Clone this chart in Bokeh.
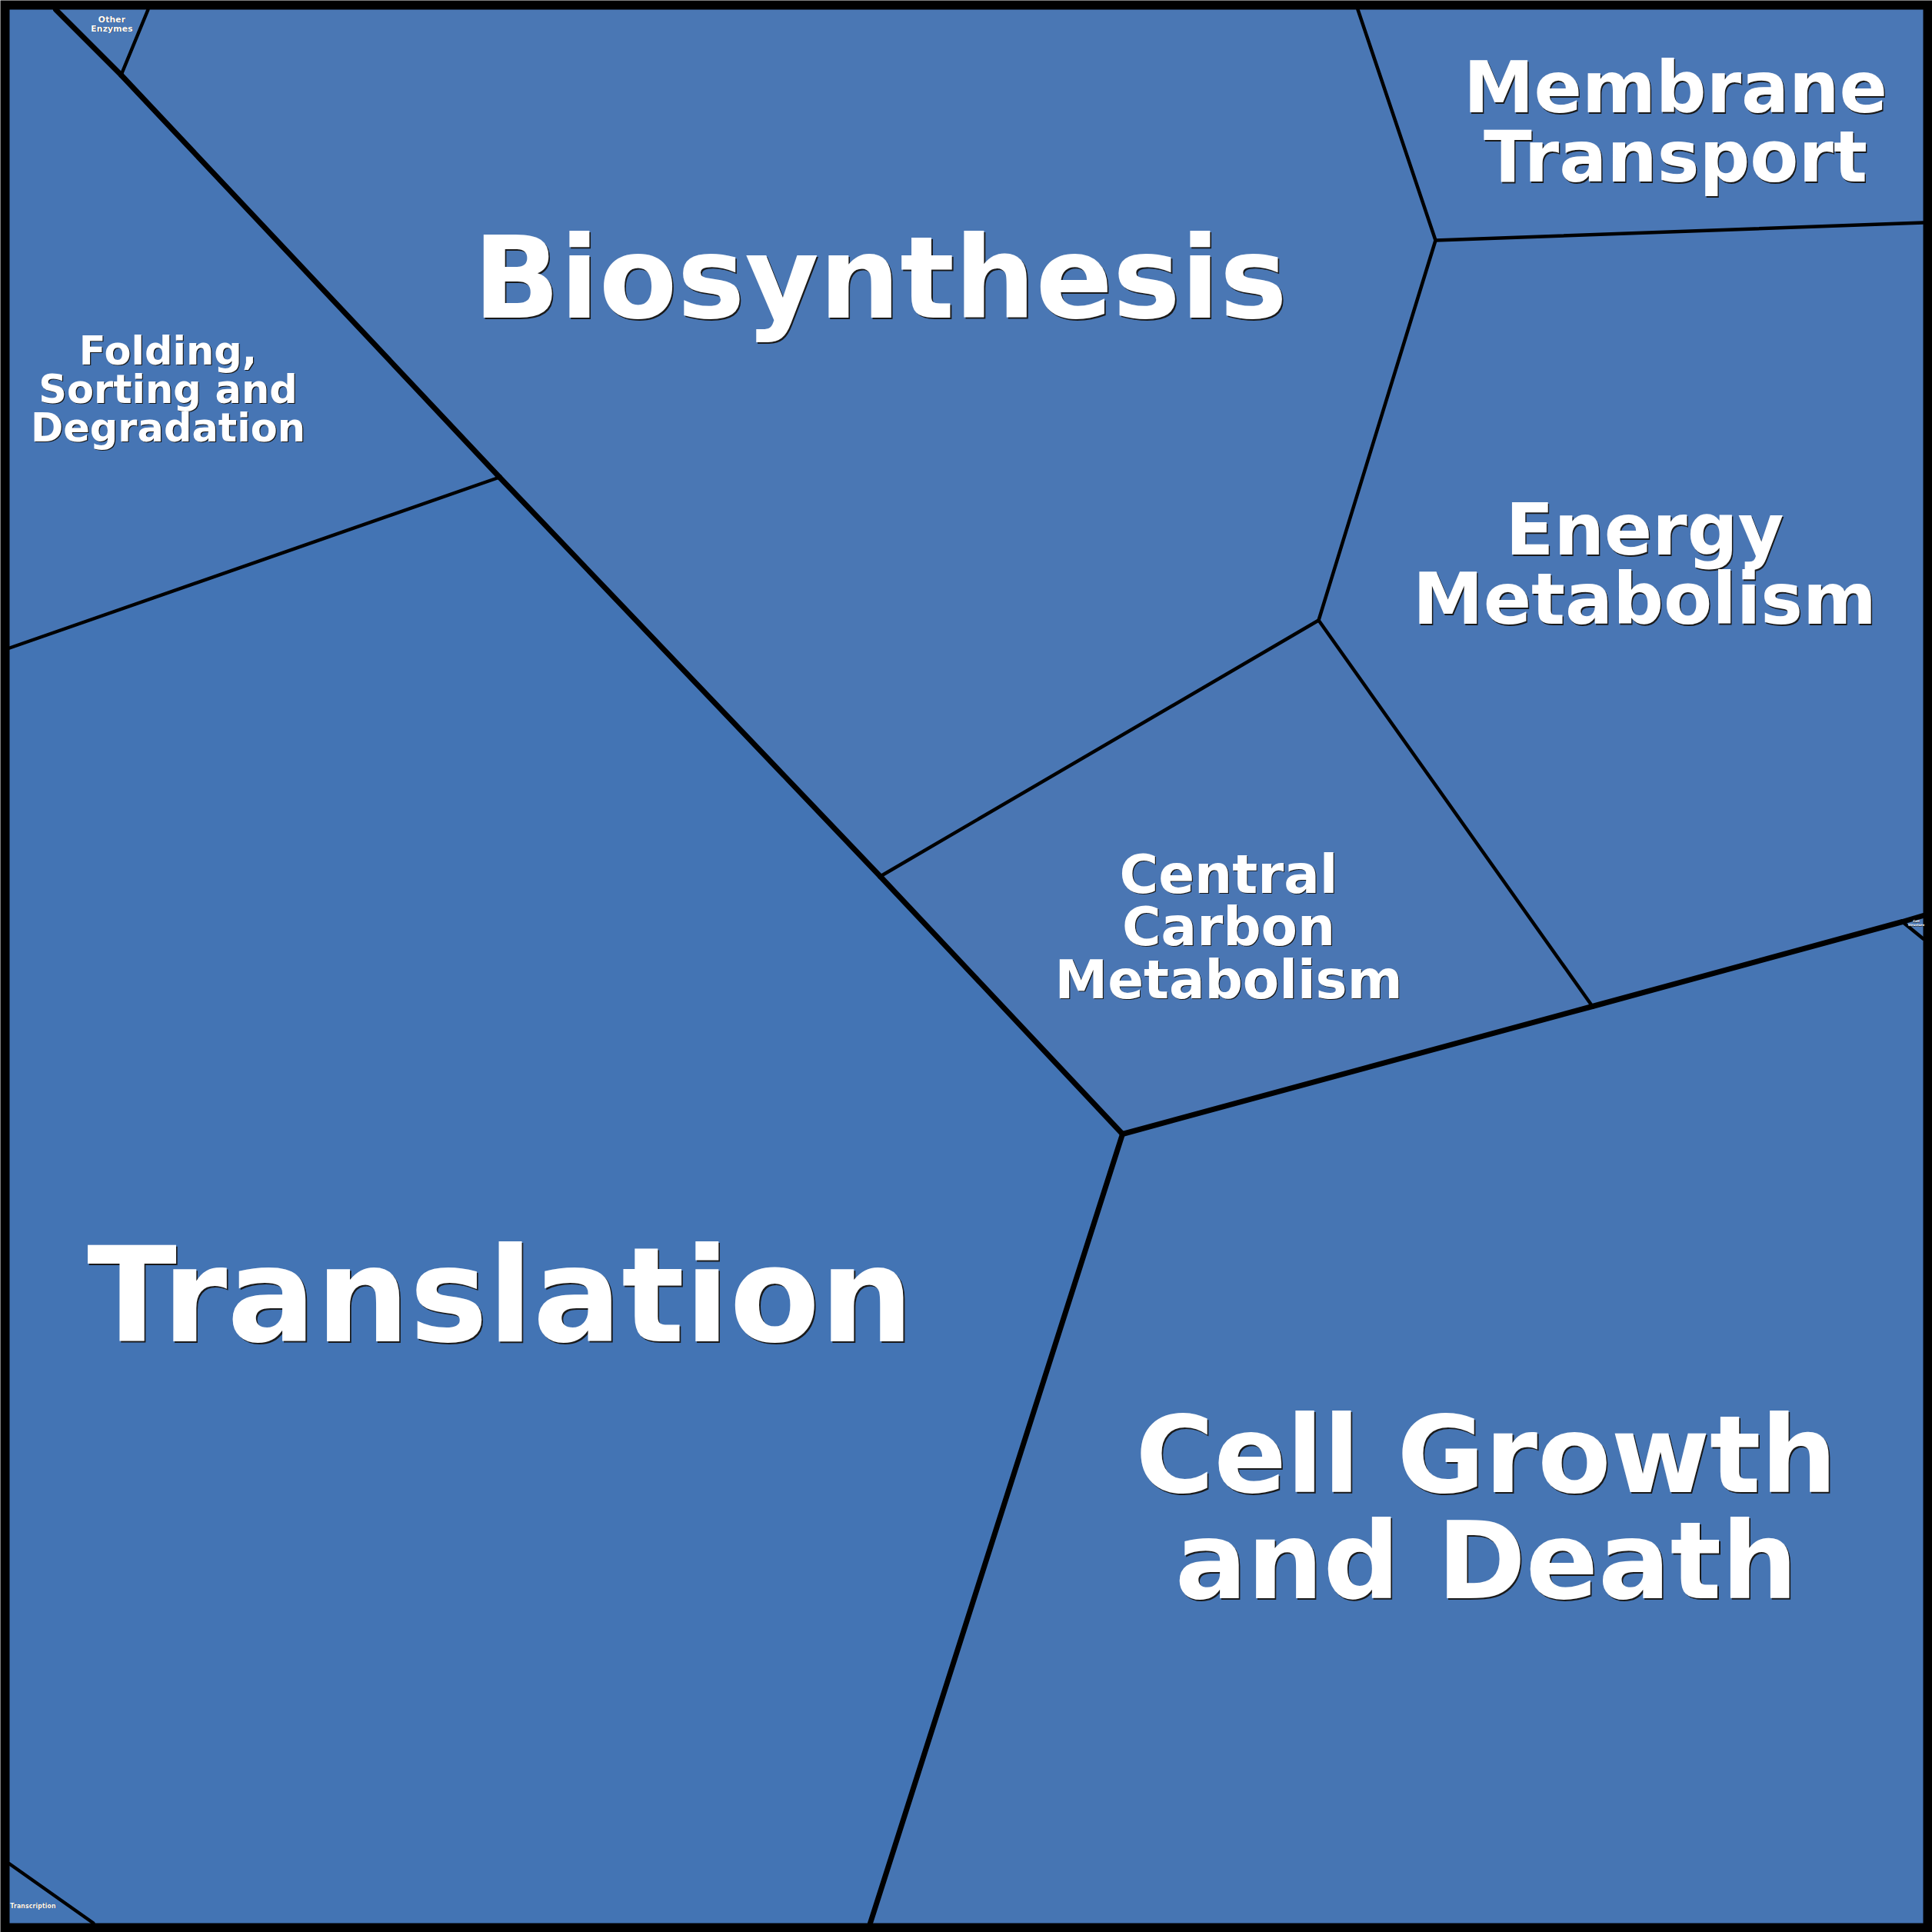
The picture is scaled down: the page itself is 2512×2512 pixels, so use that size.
import numpy as np
from bokeh.plotting import figure
from bokeh.models import ColumnDataSource, Range1d
from bokeh.embed import file_html
from bokeh.resources import INLINE
from bokeh.core.properties import value

# ---------------- data ----------------
categories = ["Translation", "Biosynthesis", "Cell Growth and Death", "Membrane Transport",
              "Energy Metabolism", "Central Carbon Metabolism",
              "Folding, Sorting and Degradation", "Other Enzymes", "Transcription", "Cell Structure"]
groups = ["Genetic", "Metabolism", "Cellular", "Metabolism", "Metabolism", "Metabolism",
          "Genetic", "Metabolism", "Genetic", "Cellular"]
label_lines = [["Translation"], ["Biosynthesis"], ["Cell Growth", "and Death"],
               ["Membrane", "Transport"], ["Energy", "Metabolism"],
               ["Central", "Carbon", "Metabolism"], ["Folding,", "Sorting and", "Degradation"],
               ["Other", "Enzymes"], ["Transcription"], ["Cell", "Structure"]]
cell_colors = ["#4374B4", "#4A77B4", "#4675B3", "#4A77B5", "#4976B4", "#4A76B3",
               "#4675B4", "#4A78B5", "#4475B4", "#4A78B5"]

# Voronoi cell outlines (picture pixel coordinates, y downward)
cell_x = [
    [12, 649, 1144, 1459, 1131, 121, 12],          # Translation
    [192, 1765, 1866, 1714, 1144, 649, 157],       # Biosynthesis
    [1459, 2070, 2473, 2500, 2500, 1131],          # Cell Growth and Death
    [1765, 2500, 2500, 1866],                      # Membrane Transport
    [1866, 2500, 2500, 2473, 2070, 1714],          # Energy Metabolism
    [1144, 1714, 2070, 1459],                      # Central Carbon Metabolism
    [12, 72, 157, 649, 12],                        # Folding, Sorting and Degradation
    [72, 192, 157],                                # Other Enzymes
    [12, 121, 12],                                 # Transcription
    [2473, 2500, 2500],                            # Cell Structure
]
cell_y = [
    [842, 620, 1139, 1474, 2500, 2500, 2423],
    [12, 12, 312, 806, 1139, 620, 97],
    [1474, 1308, 1198, 1220, 2500, 2500],
    [12, 12, 289, 312],
    [312, 289, 1190, 1198, 1308, 806],
    [1139, 806, 1308, 1474],
    [12, 12, 97, 620, 842],
    [12, 12, 97],
    [2423, 2500, 2500],
    [1198, 1190, 1220],
]

# ---------------- layout / style ----------------
W = 2512
lo, hi = 12, 2500
BASE_FIX = 0.39   # renderer's baseline shift, in em

label_cx = [650, 1144, 1932, 2178, 2138, 1597, 218, 145, 42.5, 2491]
label_base = [1751, 419, 1946, 150, 725, 1163, 476, 29, 2481, 1199]
label_size = [171, 148, 139, 92, 92, 69, 51, 11, 8, 4]
label_lead = [0, 0, 138, 90, 90, 68.5, 50, 12, 0, 5]
shadow_off = [1.8, 1.8, 1.8, 1.5, 1.5, 1.2, 1.2, 0.6, 0.5, 0.3]

p = figure(width=W, height=W, x_range=Range1d(0, 2512), y_range=Range1d(2512, 0),
           output_backend="svg", toolbar_location=None, min_border=0)
p.axis.visible = False
p.grid.visible = False
p.outline_line_color = None
p.background_fill_color = "black"
p.border_fill_color = "black"

cells = ColumnDataSource(dict(xs=cell_x, ys=cell_y, color=cell_colors, name=categories))
p.patches("xs", "ys", source=cells, fill_color="color", line_color=None)

# edges between cells: thin inside a group, thick between groups
def on_border(a, b):
    return (a[0] == b[0] and a[0] in (lo, hi)) or (a[1] == b[1] and a[1] in (lo, hi))

edges = {}
for i, (xs, ys) in enumerate(zip(cell_x, cell_y)):
    pts = list(zip(xs, ys))
    for k in range(len(pts)):
        a, b = pts[k], pts[(k + 1) % len(pts)]
        if on_border(a, b):
            continue
        key = tuple(sorted([a, b]))
        edges.setdefault(key, []).append(i)

thin_x, thin_y, thick_x, thick_y = [], [], [], []
for (a, b), owners in edges.items():
    gs = set(groups[o] for o in owners)
    if len(gs) > 1:
        thick_x.append([a[0], b[0]]); thick_y.append([a[1], b[1]])
    else:
        thin_x.append([a[0], b[0]]); thin_y.append([a[1], b[1]])

p.multi_line(thin_x, thin_y, line_color="black", line_width=4.5, line_cap="round")
p.multi_line(thick_x, thick_y, line_color="black", line_width=7, line_cap="round")

# labels, one text item per line
tx, ty, tt, tsz, toff = [], [], [], [], []
for i, lines in enumerate(label_lines):
    for j, line in enumerate(lines):
        tx.append(label_cx[i])
        ty.append(label_base[i] + j * label_lead[i] - BASE_FIX * label_size[i])
        tt.append(line)
        tsz.append("%.2fpx" % label_size[i])
        toff.append(shadow_off[i])

lab = ColumnDataSource(dict(x=tx, y=ty, text=tt, size=tsz, off=toff))
p.text("x", "y", text="text", source=lab, text_font=value("DejaVu Sans"),
       text_font_style="bold", text_font_size="size", text_color="#1a1a1a",
       text_align="center", text_baseline="alphabetic", x_offset="off", y_offset="off")
p.text("x", "y", text="text", source=lab, text_font=value("DejaVu Sans"),
       text_font_style="bold", text_font_size="size", text_color="white",
       text_align="center", text_baseline="alphabetic")

open("out.html", "w").write(file_html(p, INLINE))
